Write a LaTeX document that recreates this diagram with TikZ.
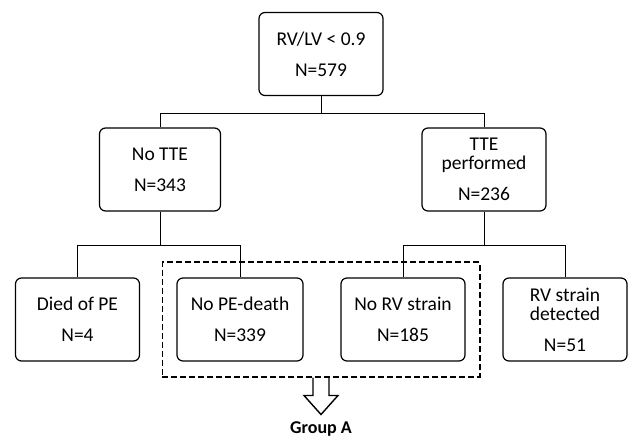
\documentclass[tikz,border=0pt]{standalone}
\usepackage{fontspec}
\setmainfont{Carlito}
\usepackage{tikz}
\usetikzlibrary{positioning,fit}

\begin{document}
\begin{tikzpicture}[x=1pt, y=-1pt, font=\fontsize{19.5}{21}\selectfont,
  b/.style={draw,line width=1.2pt,rounded corners=6pt,minimum width=124pt,minimum height=83pt,align=center,inner sep=2pt},
  ln/.style={line width=0.9pt},
  grp/.style={draw,line width=1.8pt,dash pattern=on 6pt off 3pt,inner xsep=14pt,inner ysep=15pt},
  barr/.style={line width=1.4pt,line join=miter}]
\useasboundingbox (0,0) rectangle (629,438);
\node[b] (top) at (321,54) {RV/LV < 0.9\\[10pt]N=579};
\node[b, minimum width=121pt] (notte) at (160,169.5) {No TTE\\[10pt]N=343};
\node[b] (tte) at (484,169.5) {TTE\\[-2pt]performed\\[10pt]N=236};
\node[b] (died) at (77.5,319.5) {Died of PE\\[10pt]N=4};
\node[b, minimum width=126pt] (nope) at (240,319.5) {No PE-death\\[10pt]N=339};
\node[b] (norv) at (403,319.5) {No RV strain\\[10pt]N=185};
\node[b] (rvs) at (565,319.5) {RV strain\\[-2pt]detected\\[10pt]N=51};
\node[grp, fit=(nope)(norv)] (ga) {};
\node[font=\fontsize{18}{20}\selectfont\bfseries, anchor=base] (lbl) at (321,433) {Group A};
\draw[ln] (top.south) -- ++(0,17) -| (notte.north);
\draw[ln] (top.south) -- ++(0,17) -| (tte.north);
\draw[ln] (notte.south) -- ++(0,34) -| (died.north);
\draw[ln] (notte.south) -- ++(0,34) -| (nope.north);
\draw[ln] (tte.south) -- ++(0,34) -| (norv.north);
\draw[ln] (tte.south) -- ++(0,34) -| (rvs.north);
\draw[barr] ([xshift=-8pt]ga.south) -- ++(0,18) -- ++(-9,0) -- ++(17,19) -- ++(17,-19) -- ++(-9,0) -- ++(0,-18);
\end{tikzpicture}
\end{document}
